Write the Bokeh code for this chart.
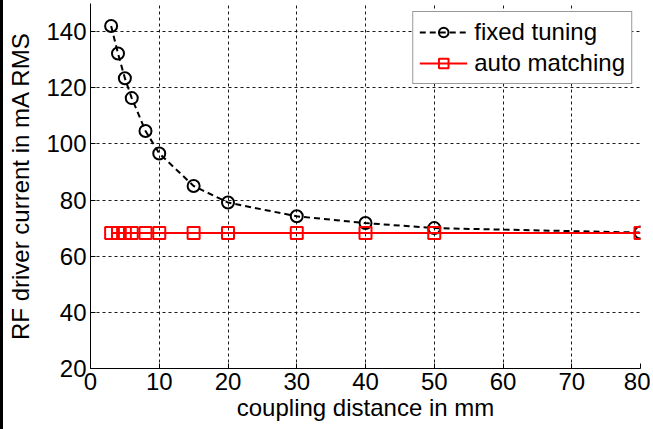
from bokeh.plotting import figure
from bokeh.models import Range1d, FixedTicker, Legend, LegendItem
from bokeh.embed import file_html
from bokeh.resources import INLINE

# coupling distance (mm) and RF driver current (mA RMS)
distance = [3, 4, 5, 6, 8, 10, 15, 20, 30, 40, 50, 80]
fixed_tuning = [142.0, 132.2, 123.4, 116.3, 104.6, 96.6, 85.0, 79.1, 74.2, 71.8, 70.0, 68.4]
auto_matching = [68.3, 68.3, 68.3, 68.3, 68.3, 68.3, 68.3, 68.3, 68.3, 68.3, 68.3, 68.3]

x_ticks = [0, 10, 20, 30, 40, 50, 60, 70, 80]
y_ticks = [20, 40, 60, 80, 100, 120, 140]

FONT = "Liberation Sans"
FS = "24px"

p = figure(width=650, height=429, output_backend="svg", toolbar_location=None,
           x_range=Range1d(0, 80), y_range=Range1d(20, 150),
           min_border_left=87, min_border_right=13, min_border_top=3, min_border_bottom=61)
p.background_fill_color = "white"
p.border_fill_color = "white"
p.outline_line_color = None
# black rule down the left edge of the figure
p.styles = {"border-left": "3px solid black"}

for ax in (p.xaxis[0], p.yaxis[0]):
    ax.axis_line_color = "black"
    ax.axis_line_width = 1
    ax.major_tick_in = 5
    ax.major_tick_out = 0
    ax.minor_tick_line_color = None
    ax.major_tick_line_color = "black"
    ax.major_label_text_font = FONT
    ax.major_label_text_font_size = FS
    ax.major_label_text_color = "black"
    ax.axis_label_text_font = FONT
    ax.axis_label_text_font_size = FS
    ax.axis_label_text_font_style = "normal"
    ax.axis_label_text_color = "black"

p.xaxis.ticker = FixedTicker(ticks=x_ticks)
p.yaxis.ticker = FixedTicker(ticks=y_ticks)
p.xaxis.axis_label = "coupling distance in mm"
p.yaxis.axis_label = "RF driver current in mA RMS"
p.xaxis.major_label_standoff = 4
p.xaxis.axis_label_standoff = 1
p.yaxis.major_label_standoff = 4
p.yaxis.axis_label_standoff = 9

for g in (p.xgrid[0], p.ygrid[0]):
    g.grid_line_color = "black"
    g.grid_line_dash = "3 3"
    g.grid_line_width = 1
    g.grid_line_alpha = 0.9

# fixed tuning: dashed black line with open circles
fl = p.line(distance, fixed_tuning, line_color="black", line_width=2, line_dash="6 4")
fm = p.scatter(distance, fixed_tuning, marker="circle", size=12, fill_color=None,
               line_color="black", line_width=2)

# auto matching: solid red line with open squares
al = p.line(distance, auto_matching, line_color="red", line_width=2)
am = p.scatter(distance, auto_matching, marker="square", size=12, fill_color=None,
               line_color="red", line_width=2)

legend = Legend(items=[
    LegendItem(label="fixed tuning", renderers=[fl, fm]),
    LegendItem(label="auto matching", renderers=[al, am]),
], location="top_right")
legend.label_text_font = FONT
legend.label_text_font_size = FS
legend.label_text_color = "black"
legend.glyph_width = 48
legend.glyph_height = 24
legend.label_height = 24
legend.label_standoff = 7
legend.spacing = 3
legend.padding = 6
legend.margin = 8
legend.border_line_color = "#333333"
legend.border_line_width = 1
legend.background_fill_color = "white"
legend.background_fill_alpha = 1
p.add_layout(legend)

open("out.html", "w").write(file_html(p, INLINE))
